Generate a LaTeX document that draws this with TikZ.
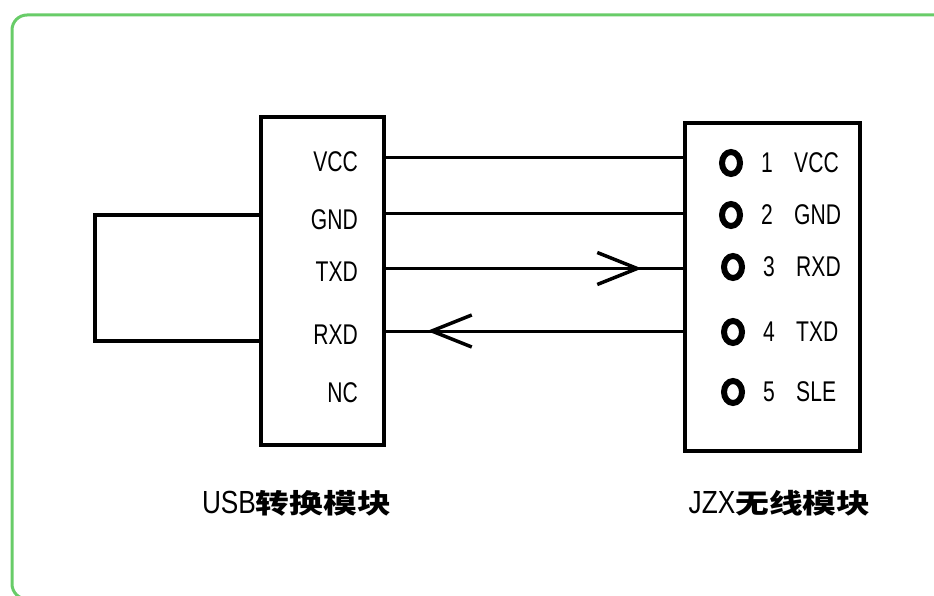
\documentclass[tikz,border=0pt]{standalone}
\usepackage{fontspec}
\usetikzlibrary{arrows.meta,decorations.markings}
\newfontfamily\pinfont[FakeStretch=0.74]{Liberation Sans}
\newfontfamily\capfont[FakeStretch=0.82]{Liberation Sans}
\newfontfamily\cjk[FakeStretch=1.25]{Noto Sans CJK SC}
\definecolor{framegreen}{RGB}{104,204,104}

\begin{document}
\begin{tikzpicture}[x=1pt,y=-1pt,
    greenframe/.style = {draw=framegreen, line width=3, rounded corners=15},
    modbox/.style = {draw, rectangle, line width=#1, minimum height=328, inner sep=0, outer sep=0},
    wire/.style = {line width=3},
    midbarb/.style = {postaction={decorate}, decoration={markings,
        mark=at position 0.857 with {\arrow{Straight Barb[length=40pt,width=32pt,line width=3.5pt]}}}},
    hole/.style = {line width=6},
    lbl/.style = {font=\pinfont\fontsize{28.5}{30}\selectfont, inner sep=0}]
\useasboundingbox (0,0) rectangle (934,596);
\draw[greenframe] (12,15) rectangle (965,599);

\node[modbox=4, minimum width=123] (usb) at (322.5,281) {};
\node[modbox=3.5, minimum width=175] (jzx) at (772.5,287) {};
\draw[line width=4] (usb.west |- 0,215) -- (95,215) -- (95,341) -- (usb.west |- 0,341);

\foreach \t/\y in {VCC/162, GND/220, TXD/272, RXD/335, NC/393}
  \node[lbl, anchor=east] (u\t) at (358,\y) {\t};

\foreach \n/\t/\x/\y in {1/VCC/731/163, 2/GND/731/215, 3/RXD/733/267, 4/TXD/733/332, 5/SLE/733/392}{
  \coordinate (h\n) at (\x,\y);
  \draw[hole] (h\n) ellipse [x radius=9, y radius=11];
  \node[lbl, anchor=west] (n\n) at (\x+30,\y) {\n};
  \node[lbl, anchor=west] (s\n) at (\x+63,\y) {\t};
}

\draw[wire] (usb.east |- 0,157.5) -- (jzx.west |- 0,157.5);
\draw[wire] (usb.east |- 0,214) -- (jzx.west |- 0,214);
\draw[wire, midbarb] (usb.east |- 0,268.5) -- (jzx.west |- 0,268.5);
\draw[wire, midbarb] (jzx.west |- 0,331) -- (usb.east |- 0,331);

\node (usbname) at (296.5,503.5)
  {{\capfont\fontsize{32}{34}\selectfont USB}{\cjk\bfseries\fontsize{27}{30}\selectfont 转换模块}};
\node (jzxname) at (779.5,503.5)
  {{\capfont\fontsize{32}{34}\selectfont JZX}{\cjk\bfseries\fontsize{27}{30}\selectfont 无线模块}};
\end{tikzpicture}
\end{document}
